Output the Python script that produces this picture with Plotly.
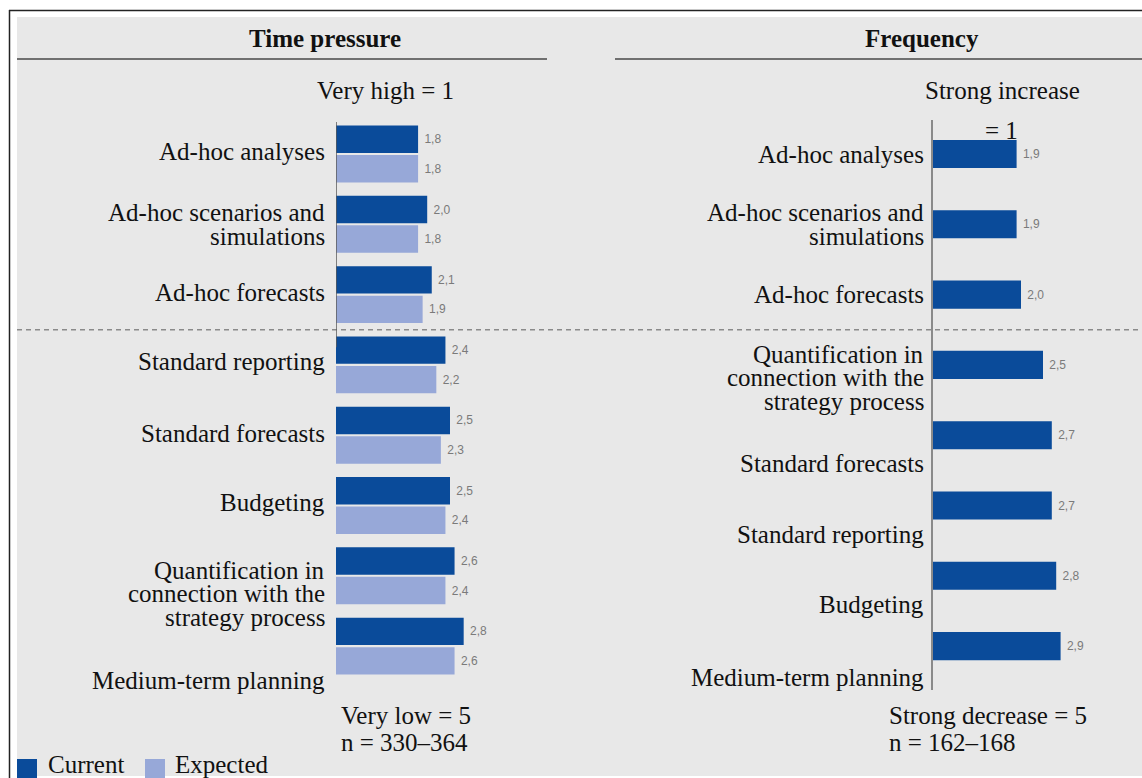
import plotly.graph_objects as go

W, H = 1142, 778

# ---------------- data ----------------
tp_categories = ["Ad-hoc analyses", "Ad-hoc scenarios and<br>simulations", "Ad-hoc forecasts",
                 "Standard reporting", "Standard forecasts", "Budgeting",
                 "Quantification in<br>connection with the<br>strategy process", "Medium-term planning"]
tp_current = [1.8, 2.0, 2.1, 2.4, 2.5, 2.5, 2.6, 2.8]
tp_expected = [1.8, 1.8, 1.9, 2.2, 2.3, 2.4, 2.4, 2.6]

fr_categories = ["Ad-hoc analyses", "Ad-hoc scenarios and<br>simulations", "Ad-hoc forecasts",
                 "Quantification in<br>connection with the<br>strategy process", "Standard forecasts",
                 "Standard reporting", "Budgeting", "Medium-term planning"]
fr_current = [1.9, 1.9, 2.0, 2.5, 2.7, 2.7, 2.8, 2.9]

series_names = ["Current", "Expected"]
panel_titles = ["Time pressure", "Frequency"]
tp_top_note = ["Very high = 1"]
tp_bottom_note = ["Very low = 5", "n = 330\u2013364"]
fr_top_note = ["Strong increase", "= 1"]
fr_bottom_note = ["Strong decrease = 5", "n = 162\u2013168"]

# ---------------- style ----------------
DARK = "#0a4b9a"
LIGHT = "#97a8d8"
BG = "#e8e8e8"
SERIF = "Liberation Serif"
FS = 25

def px(x):
    return x / W

def py(y):
    return 1 - y / H

# axis geometry (pixels)
Y_TOP, Y_BOT = 120, 690
C0, STEP = 154, 70.3
yr = [(Y_BOT - C0) / STEP, (Y_TOP - C0) / STEP]
L0, LS = 336, 45.6
R0, RS = 933, 44.0

fig = go.Figure()
idx = list(range(len(tp_categories)))

lbl_font = dict(family="Liberation Sans", size=12, color="#7a7a7a")
TT = "\u00a0%{x:.1f}"
fig.add_trace(go.Bar(x=tp_current, y=idx, orientation="h", width=0.39, offset=-0.405,
                     marker=dict(color=DARK, line=dict(width=0)), name=series_names[0],
                     text=tp_current, texttemplate=TT, textposition="outside",
                     textfont=lbl_font, cliponaxis=False, constraintext="none",
                     xaxis="x", yaxis="y", showlegend=False))
fig.add_trace(go.Bar(x=tp_expected, y=idx, orientation="h", width=0.39, offset=0.015,
                     marker=dict(color=LIGHT, line=dict(width=0)), name=series_names[1],
                     text=tp_expected, texttemplate=TT, textposition="outside",
                     textfont=lbl_font, cliponaxis=False, constraintext="none",
                     xaxis="x", yaxis="y", showlegend=False))
fig.add_trace(go.Bar(x=fr_current, y=list(range(len(fr_categories))), orientation="h",
                     width=0.40, offset=-0.2,
                     marker=dict(color=DARK, line=dict(width=0)), name=series_names[0],
                     text=fr_current, texttemplate=TT, textposition="outside",
                     textfont=lbl_font, cliponaxis=False, constraintext="none",
                     xaxis="x2", yaxis="y2", showlegend=False))

ax_common = dict(showgrid=False, zeroline=False, showticklabels=False, ticks="", fixedrange=True)
fig.update_layout(
    width=W, height=H, margin=dict(l=0, r=0, t=0, b=0),
    paper_bgcolor="white", plot_bgcolor="rgba(0,0,0,0)",
    separators=",.", barmode="overlay", showlegend=False,
    xaxis=dict(domain=[px(L0), px(L0 + 5 * LS)], range=[0, 5], anchor="y", **ax_common),
    yaxis=dict(domain=[py(Y_BOT), py(Y_TOP)], range=yr, anchor="x", showline=False, **ax_common),
    xaxis2=dict(domain=[px(R0), px(R0 + 4.5 * RS)], range=[0, 4.5], anchor="y2", **ax_common),
    yaxis2=dict(domain=[py(Y_BOT), py(Y_TOP)], range=yr, anchor="x2", showline=True,
                linecolor="#8a8a8a", linewidth=1.5, **ax_common),
)

shapes = []
# background panel and frame
shapes.append(dict(type="rect", xref="paper", yref="paper", x0=px(17), x1=px(W), y0=py(776), y1=py(17),
                   fillcolor=BG, line=dict(width=0), layer="below"))
shapes.append(dict(type="line", xref="paper", yref="paper", x0=px(9), x1=px(W), y0=py(10.5), y1=py(10.5),
                   line=dict(color="#222", width=1.5)))
shapes.append(dict(type="line", xref="paper", yref="paper", x0=px(9.5), x1=px(9.5), y0=py(10), y1=py(H),
                   line=dict(color="#222", width=1.5)))
# header rules
shapes.append(dict(type="line", xref="paper", yref="paper", x0=px(17), x1=px(547), y0=py(59), y1=py(59),
                   line=dict(color="#707070", width=2)))
shapes.append(dict(type="line", xref="paper", yref="paper", x0=px(615), x1=px(W), y0=py(59), y1=py(59),
                   line=dict(color="#707070", width=2)))
# dashed separator between ad-hoc and standard tasks
shapes.append(dict(type="line", xref="paper", yref="y", x0=px(17), x1=px(W), y0=2.5, y1=2.5,
                   line=dict(color="#8a8a8a", width=1.5, dash="5px,4px")))
# left axis line (only visible in upper part)
shapes.append(dict(type="line", xref="x", yref="y", x0=0, x1=0, y0=yr[1] + 0.03, y1=2.75,
                   line=dict(color="#5a5a5a", width=1.5)))
# legend squares
shapes.append(dict(type="rect", xref="paper", yref="paper", x0=px(17), x1=px(37), y0=py(H), y1=py(759),
                   fillcolor=DARK, line=dict(width=0)))
shapes.append(dict(type="rect", xref="paper", yref="paper", x0=px(145), x1=px(165), y0=py(H), y1=py(759),
                   fillcolor=LIGHT, line=dict(width=0)))

ann = []
def txt(x, y, s, xanchor="center", bold=False, size=FS, xref="paper", yref="paper", yshift=0):
    ann.append(dict(x=x, y=y, xref=xref, yref=yref, text=("<b>%s</b>" % s) if bold else s,
                    showarrow=False, xanchor=xanchor, yanchor="middle", yshift=yshift,
                    font=dict(family=SERIF, size=size, color="#111")))

# titles
txt(px(325), py(38), panel_titles[0], bold=True)
txt(px(922), py(38), panel_titles[1], bold=True)
# scale notes
txt(px(385), py(90), tp_top_note[0])
txt(px(1003), py(90), fr_top_note[0])
txt(px(1001), py(131), fr_top_note[1])
txt(px(339), py(715), tp_bottom_note[0], xanchor="left")
txt(px(339), py(742), tp_bottom_note[1], xanchor="left")
txt(px(887), py(715), fr_bottom_note[0], xanchor="left")
txt(px(887), py(742), fr_bottom_note[1], xanchor="left")
# legend labels
txt(px(46), py(764), series_names[0], xanchor="left")
txt(px(173), py(764), series_names[1], xanchor="left")

# category labels (vertical pixel offsets of the label block relative to bar centre)
tp_shift = [-2, 0, -2, -3, -2, -3, 18, 34]
fr_shift = [1, 0, 0, 13, 28, 29, 29, 31]
LINE = 23.5

def cat_labels(cats, shifts, xpix, yref):
    for i, (c, s) in enumerate(zip(cats, shifts)):
        lines = c.split("<br>")
        n = len(lines)
        for k, ln in enumerate(lines):
            off = s + (k - (n - 1) / 2) * LINE
            txt(px(xpix), i, ln, xanchor="right", yref=yref, yshift=-off)

cat_labels(tp_categories, tp_shift, 327, "y")
cat_labels(fr_categories, fr_shift, 926, "y2")

fig.update_layout(shapes=shapes, annotations=ann)
fig.write_html("out.html")
